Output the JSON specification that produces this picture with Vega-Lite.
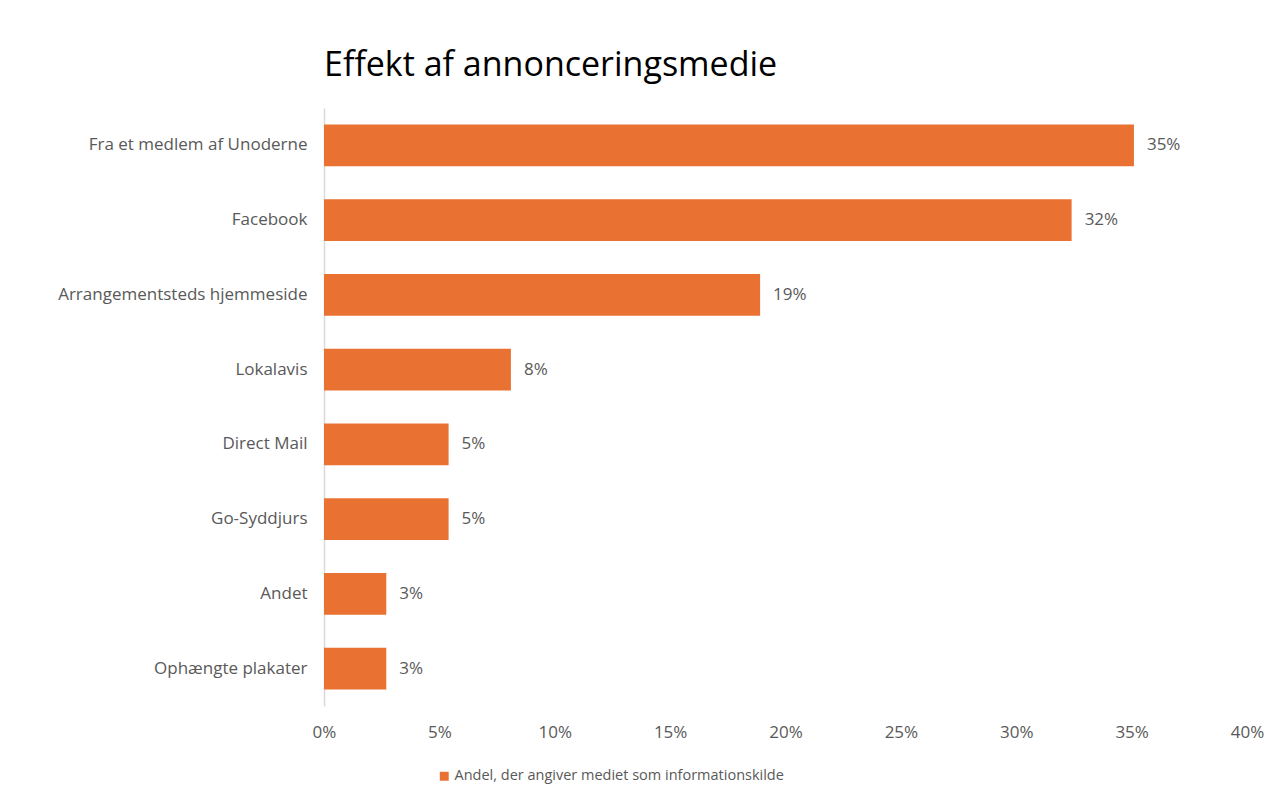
{
  "$schema": "https://vega.github.io/schema/vega-lite/v6.json",
  "autosize": {"type": "none"},
  "width": 923,
  "height": 598,
  "padding": {"left": 324, "top": 108, "right": 35, "bottom": 96},
  "background": "white",
  "title": {
    "text": "Effekt af annonceringsmedie",
    "anchor": "start",
    "frame": "group",
    "fontSize": 34,
    "fontWeight": "normal",
    "font": "Open Sans",
    "color": "#000000",
    "baseline": "alphabetic",
    "offset": -2
  },
  "data": {
    "values": [
      {"medie": "Fra et medlem af Unoderne", "andel": 0.351},
      {"medie": "Facebook", "andel": 0.324},
      {"medie": "Arrangementsteds hjemmeside", "andel": 0.189},
      {"medie": "Lokalavis", "andel": 0.081},
      {"medie": "Direct Mail", "andel": 0.054},
      {"medie": "Go-Syddjurs", "andel": 0.054},
      {"medie": "Andet", "andel": 0.027},
      {"medie": "Ophængte plakater", "andel": 0.027}
    ]
  },
  "encoding": {
    "y": {
      "field": "medie",
      "type": "nominal",
      "sort": null,
      "title": null,
      "scale": {"paddingInner": 0.44, "paddingOuter": 0.22},
      "axis": {
        "ticks": false,
        "domainColor": "#d9d9d9",
        "domainWidth": 1.5,
        "labelPadding": 17,
        "labelFontSize": 17,
        "labelFont": "Open Sans",
        "labelColor": "#595959",
        "labelLimit": 400
      }
    },
    "x": {
      "field": "andel",
      "type": "quantitative",
      "title": null,
      "scale": {"domain": [0, 0.4], "nice": false},
      "axis": {
        "format": ".0%",
        "values": [0, 0.05, 0.1, 0.15, 0.2, 0.25, 0.3, 0.35, 0.4],
        "grid": false,
        "domain": false,
        "ticks": false,
        "labelPadding": 18,
        "labelFontSize": 17,
        "labelFont": "Open Sans",
        "labelColor": "#595959",
        "labelFlush": false
      }
    }
  },
  "layer": [
    {
      "mark": {"type": "bar", "color": "#E97132"},
      "encoding": {
        "color": {
          "datum": "Andel, der angiver mediet som informationskilde",
          "scale": {"range": ["#E97132"]},
          "legend": {
            "title": null,
            "orient": "none",
            "legendX": 113,
            "legendY": 661,
            "symbolType": "square",
            "symbolSize": 80,
            "symbolOpacity": 1,
            "labelOffset": 3,
            "labelFontSize": 14.5,
            "labelFont": "Open Sans",
            "labelColor": "#595959",
            "labelLimit": 500
          }
        }
      }
    },
    {
      "mark": {
        "type": "text",
        "align": "left",
        "dx": 13,
        "fontSize": 17,
        "font": "Open Sans",
        "color": "#595959"
      },
      "encoding": {
        "text": {"field": "andel", "type": "quantitative", "format": ".0%"}
      }
    }
  ],
  "config": {
    "view": {"stroke": null}
  }
}
